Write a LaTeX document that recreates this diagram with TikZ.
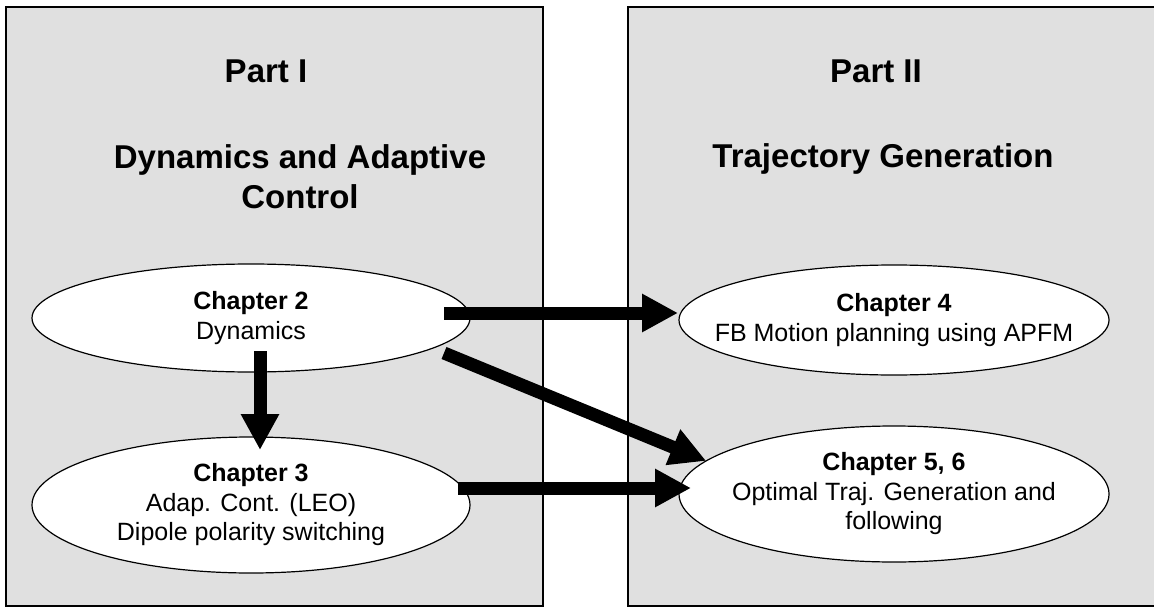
\documentclass[tikz,border=0pt]{standalone}
\usepackage{fontspec}
\setmainfont{Liberation Sans}
\usetikzlibrary{shapes.geometric,arrows.meta}

\begin{document}
\begin{tikzpicture}[x=0.5pt,y=-0.5pt,
  panel/.style={draw=black,line width=0.75pt,fill=black!12},
  parttitle/.style={font=\fontsize{16.5}{20}\selectfont\bfseries,align=center,anchor=base},
  chapter/.style={ellipse,draw=black,line width=0.6pt,fill=white,inner sep=-15pt,outer sep=0pt,
    minimum width=219pt,align=center,font=\fontsize{12.5}{14.75}\selectfont},
  bigarrow/.style={line width=6.5pt,-{Triangle[length=18pt,width=18pt]}}]
\useasboundingbox (0,0) rectangle (1154,609);
\clip (0,0) rectangle (1154,609);
% the two parts
\draw [panel] (6,7) rectangle (543,606);
\draw [panel] (628,7) rectangle (1170,606);
\node[parttitle] (p1) at (266,83) {Part I};
\node[parttitle] (p1t) at (300,208) {Dynamics and Adaptive\\Control};
\node[parttitle] (p2) at (876,83) {Part II};
\node[parttitle] (p2t) at (883,168) {Trajectory Generation};
% chapters
\node[chapter,minimum height=54pt] (ch2) at (251,318) {\textbf{Chapter 2}\\Dynamics};
\node[chapter,minimum height=68pt] (ch3) at (251,505) {\textbf{Chapter 3}\\Adap. Cont. (LEO)\\Dipole polarity switching};
\node[chapter,minimum height=55pt,minimum width=215pt] (ch4) at (894,320) {\textbf{Chapter 4}\\FB Motion planning using APFM};
\node[chapter,minimum height=68pt,minimum width=215pt] (ch56) at (894,494) {\textbf{Chapter 5, 6}\\Optimal Traj. Generation and\\following};
% links
\draw [bigarrow] ([shift={(-26,-5)}]ch2.east) -- ([shift={(-1,-7)}]ch4.west);
\draw [bigarrow] ([shift={(9,-21)}]ch2.south) -- ([shift={(9,13)}]ch3.north);
\draw [bigarrow] ([shift={(-26,35)}]ch2.east) -- (ch56.170);
\draw [bigarrow] ([shift={(-12,-17)}]ch3.east) -- ([shift={(12,-6)}]ch56.west);
\end{tikzpicture}
\end{document}
